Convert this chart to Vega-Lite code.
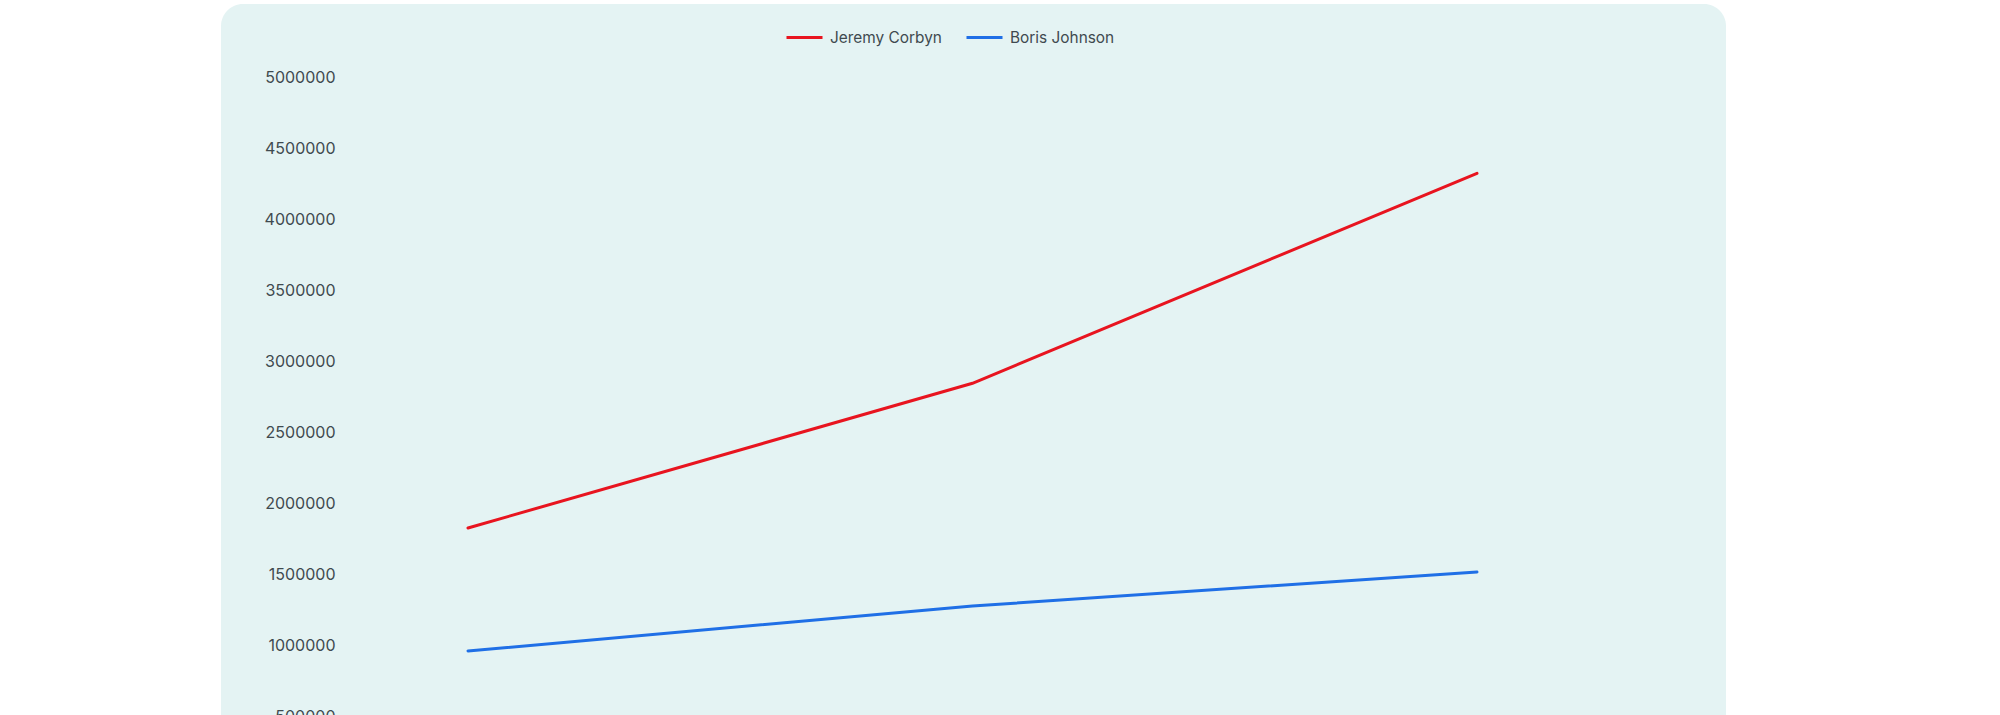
{
  "$schema": "https://vega.github.io/schema/vega-lite/v6.json",
  "width": 1505,
  "height": 800,
  "autosize": {"type": "none"},
  "padding": {"left": 221, "top": 4, "right": 274, "bottom": -89},
  "background": "white",
  "config": {
    "view": {"fill": "#e4f3f3", "stroke": null, "cornerRadius": 22},
    "font": "Inter"
  },
  "data": {
    "values": [
      {"period": "2017", "candidate": "Jeremy Corbyn", "value": 1824000},
      {"period": "2018", "candidate": "Jeremy Corbyn", "value": 2843000},
      {"period": "2019", "candidate": "Jeremy Corbyn", "value": 4322000},
      {"period": "2017", "candidate": "Boris Johnson", "value": 958000},
      {"period": "2018", "candidate": "Boris Johnson", "value": 1275000},
      {"period": "2019", "candidate": "Boris Johnson", "value": 1514000}
    ]
  },
  "mark": {"type": "line", "strokeWidth": 3, "strokeCap": "round"},
  "encoding": {
    "x": {
      "field": "period",
      "type": "ordinal",
      "sort": null,
      "scale": {"type": "point", "range": [247, 1256], "padding": 0},
      "axis": {"title": null, "domain": false, "ticks": false, "labelAngle": 0, "labelFontSize": 16, "labelColor": "#3f4a4f"}
    },
    "y": {
      "field": "value",
      "type": "quantitative",
      "scale": {"domain": [0, 5000000], "range": [783, 73], "nice": false},
      "axis": {
        "title": null,
        "values": [0, 500000, 1000000, 1500000, 2000000, 2500000, 3000000, 3500000, 4000000, 4500000, 5000000],
        "format": "d",
        "domain": false,
        "ticks": false,
        "grid": false,
        "offset": -116,
        "labelPadding": 2,
        "labelFontSize": 16,
        "labelColor": "#3f4a4f"
      }
    },
    "color": {
      "field": "candidate",
      "type": "nominal",
      "scale": {"domain": ["Jeremy Corbyn", "Boris Johnson"], "range": ["#e8141f", "#1f6fe6"]},
      "legend": {
        "title": null,
        "orient": "none",
        "direction": "horizontal",
        "legendX": 564,
        "legendY": 14,
        "symbolType": "stroke",
        "symbolSize": 1296,
        "symbolStrokeWidth": 3,
        "labelFontSize": 15.4,
        "labelColor": "#3f4a4f",
        "labelOffset": 6,
        "columnPadding": 18
      }
    }
  }
}
